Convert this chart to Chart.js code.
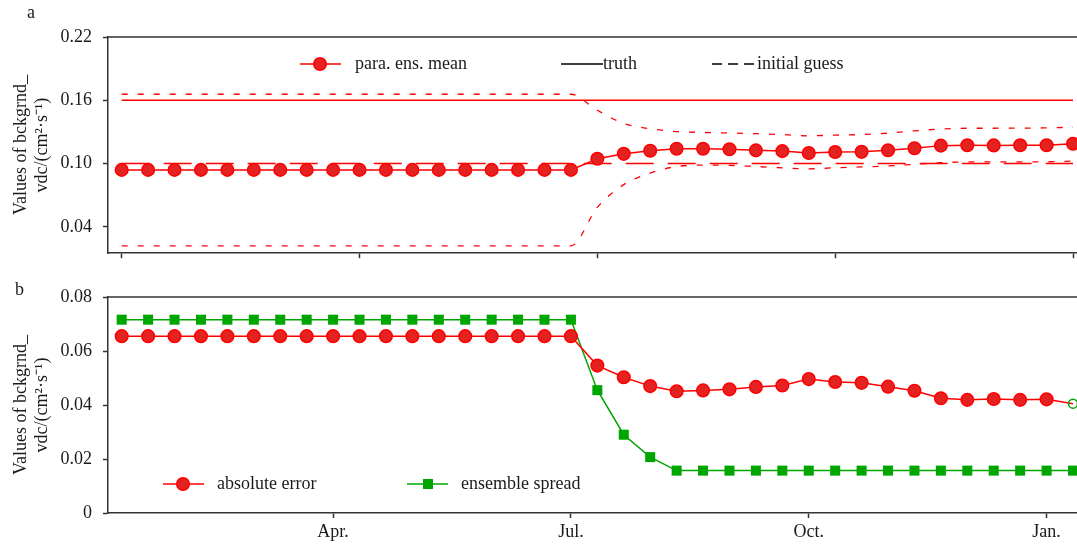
<!DOCTYPE html>
<html><head><meta charset="utf-8">
<script src="https://cdn.jsdelivr.net/npm/chart.js@4.4.1/dist/chart.umd.min.js"></script>
<style>
html,body{margin:0;padding:0;background:#fff;}
#wrap{position:relative;width:1077px;height:550px;overflow:hidden;}
canvas{position:absolute;left:0;}
#ca{top:0;} #cb{top:275px;}
</style></head><body>
<div id="wrap"><canvas id="ca" width="1077" height="275"></canvas><canvas id="cb" width="1077" height="275"></canvas></div>
<script>
// time steps (shared by both panels)
const steps = [0,1,2,3,4,5,6,7,8,9,10,11,12,13,14,15,16,17,18,19,20,21,22,23,24,25,26,27,28,29,30,31,32,33,34,35,36];

// panel a
const paraEnsMean = [0.0940,0.0940,0.0940,0.0940,0.0940,0.0940,0.0940,0.0940,0.0940,0.0940,0.0940,0.0940,0.0940,0.0940,0.0940,0.0940,0.0940,0.0940,
  0.1045,0.1092,0.1122,0.1140,0.1140,0.1135,0.1125,0.1118,0.1100,0.1110,0.1111,0.1126,0.1145,0.1170,0.1173,0.1172,0.1173,0.1173,0.1188];
const truth = [0.16,0.16,0.16,0.16,0.16,0.16,0.16,0.16,0.16,0.16,0.16,0.16,0.16,0.16,0.16,0.16,0.16,0.16,0.16,0.16,0.16,0.16,0.16,0.16,0.16,0.16,0.16,0.16,0.16,0.16,0.16,0.16,0.16,0.16,0.16,0.16,0.16];
const initialGuess = [0.10,0.10,0.10,0.10,0.10,0.10,0.10,0.10,0.10,0.10,0.10,0.10,0.10,0.10,0.10,0.10,0.10,0.10,0.10,0.10,0.10,0.10,0.10,0.10,0.10,0.10,0.10,0.10,0.10,0.10,0.10,0.10,0.10,0.10,0.10,0.10,0.10];
const ensembleMax = [0.1657,0.1657,0.1657,0.1657,0.1657,0.1657,0.1657,0.1657,0.1657,0.1657,0.1657,0.1657,0.1657,0.1657,0.1657,0.1657,0.1657,0.1657,
  0.1505,0.1380,0.1330,0.1303,0.1295,0.1290,0.1283,0.1275,0.1263,0.1270,0.1275,0.1288,0.1310,0.1328,0.1335,0.1335,0.1336,0.1338,0.1345];
const ensembleMin = [0.0220,0.0220,0.0220,0.0220,0.0220,0.0220,0.0220,0.0220,0.0220,0.0220,0.0220,0.0220,0.0220,0.0220,0.0220,0.0220,0.0220,0.0220,
  0.0585,0.0800,0.0910,0.0972,0.0985,0.0983,0.0972,0.0960,0.0950,0.0960,0.0968,0.0977,0.0993,0.1008,0.1015,0.1015,0.1016,0.1017,0.1024];
const panelAYTicks = [0.04,0.10,0.16,0.22];
const panelAXTicks = [0,9,18,27,36];

// panel b
const absoluteError = [0.0655,0.0655,0.0655,0.0655,0.0655,0.0655,0.0655,0.0655,0.0655,0.0655,0.0655,0.0655,0.0655,0.0655,0.0655,0.0655,0.0655,0.0655,
  0.0546,0.0503,0.0470,0.0451,0.0454,0.0458,0.0467,0.0472,0.0496,0.0485,0.0482,0.0468,0.0453,0.0425,0.0419,0.0422,0.0419,0.0421,0.0405];
const ensembleSpread = [0.0716,0.0716,0.0716,0.0716,0.0716,0.0716,0.0716,0.0716,0.0716,0.0716,0.0716,0.0716,0.0716,0.0716,0.0716,0.0716,0.0716,0.0716,
  0.0455,0.0290,0.0207,0.0157,0.0157,0.0157,0.0157,0.0157,0.0157,0.0157,0.0157,0.0157,0.0157,0.0157,0.0157,0.0157,0.0157,0.0157,0.0157];
const panelBYTicks = [0,0.02,0.04,0.06,0.08];
const monthTickSteps = [8,17,26,35];
const monthTickLabels = ['Apr.','Jul.','Oct.','Jan.'];

const FONT = "'Liberation Serif','Times New Roman',serif";
const RED = '#ff0000', RED_FILL = '#e52222', GREEN = '#00a600', AXIS = '#333333', TXT = '#1a1a1a';
const X_MIN = -0.518, X_MAX = 36.151;
const pts = arr => steps.map((s, i) => ({x: s, y: arr[i]}));
Chart.defaults.font.family = FONT;
Chart.defaults.font.size = 18;
Chart.defaults.color = TXT;

function yTitle() {
  return {display: true, text: ['Values of bckgrnd_', 'vdc/(cm\u00B2\u00B7s\u207B\u00B9)'], color: TXT,
    font: {family: FONT, size: 18, lineHeight: 1.2}, padding: {top: 10, bottom: 0}};
}
function axisCommon() {
  return {border: {display: true, color: AXIS, width: 1.5},
    grid: {drawOnChartArea: false, drawTicks: true, tickLength: 5, tickColor: AXIS, tickWidth: 1.5}};
}

const frame = {
  id: 'frame',
  afterDraw(chart, args, opts) {
    const {ctx, chartArea: a} = chart;
    ctx.save();
    ctx.strokeStyle = AXIS; ctx.lineWidth = 1.5;
    ctx.beginPath(); ctx.moveTo(a.left, a.top); ctx.lineTo(chart.width, a.top); ctx.stroke();
    ctx.fillStyle = TXT; ctx.font = '18px ' + FONT; ctx.textBaseline = 'alphabetic'; ctx.textAlign = 'left';
    ctx.fillText(opts.letter, opts.lx, opts.ly);
    ctx.textBaseline = 'middle';
    for (const it of opts.items) {
      ctx.save();
      ctx.strokeStyle = it.color; ctx.lineWidth = it.lw || 1.5;
      if (it.dash) ctx.setLineDash(it.dash);
      ctx.beginPath(); ctx.moveTo(it.x0, it.y); ctx.lineTo(it.x1, it.y); ctx.stroke();
      ctx.setLineDash([]);
      if (it.marker === 'circle') {
        ctx.fillStyle = RED_FILL; ctx.strokeStyle = RED; ctx.lineWidth = 1.5;
        ctx.beginPath(); ctx.arc(it.mx, it.y, 6.3, 0, Math.PI * 2); ctx.fill(); ctx.stroke();
      } else if (it.marker === 'square') {
        ctx.fillStyle = GREEN; ctx.fillRect(it.mx - 5, it.y - 5, 10, 10);
      }
      ctx.restore();
      ctx.fillStyle = TXT;
      ctx.fillText(it.label, it.tx, it.y);
    }
    ctx.restore();
  }
};

// ---------- panel a ----------
new Chart(document.getElementById('ca'), {
  type: 'line',
  data: {datasets: [
    {label: 'para. ens. mean', data: pts(paraEnsMean), borderColor: RED, borderWidth: 1.5,
      pointRadius: 6.3, pointBackgroundColor: RED_FILL, pointBorderColor: RED, pointBorderWidth: 1.5, tension: 0},
    {label: 'truth', data: pts(truth), borderColor: RED, borderWidth: 1.5, pointRadius: 0},
    {label: 'initial guess', data: pts(initialGuess), borderColor: RED, borderWidth: 1.5, borderDash: [28, 14], pointRadius: 0},
    {label: 'ensemble max', data: pts(ensembleMax), borderColor: RED, borderWidth: 1.3, borderDash: [6, 10], pointRadius: 0, cubicInterpolationMode: 'monotone'},
    {label: 'ensemble min', data: pts(ensembleMin), borderColor: RED, borderWidth: 1.3, borderDash: [6, 10], pointRadius: 0, cubicInterpolationMode: 'monotone'}
  ]},
  options: {
    responsive: false, animation: false, devicePixelRatio: 1,
    layout: {autoPadding: false, padding: {top: 37, right: 0, bottom: 0, left: 0}},
    plugins: {legend: {display: false}, tooltip: {enabled: false},
      frame: {letter: 'a', lx: 27, ly: 18, items: [
        {x0: 300, x1: 341, y: 64, color: RED, marker: 'circle', mx: 320, label: 'para. ens. mean', tx: 355},
        {x0: 561, x1: 603, y: 64, color: '#000', lw: 1.3, label: 'truth', tx: 603},
        {x0: 712, x1: 755, y: 64, color: '#000', lw: 1.3, dash: [10, 6], label: 'initial guess', tx: 757}
      ]}},
    scales: {
      x: Object.assign(axisCommon(), {type: 'linear', min: X_MIN, max: X_MAX,
        ticks: {display: false},
        afterBuildTicks: s => { s.ticks = panelAXTicks.map(v => ({value: v})); },
        afterFit: s => { s.height = 21; }}),
      y: Object.assign(axisCommon(), {min: 0.0150, max: 0.22,
        ticks: {padding: 11, color: TXT, font: {size: 18, family: FONT}, callback: v => Number(v).toFixed(2)},
        afterBuildTicks: s => { s.ticks = panelAYTicks.map(v => ({value: v})); },
        afterFit: s => { s.width = 108; },
        title: yTitle()})
    }
  },
  plugins: [frame]
});

// ---------- panel b ----------
new Chart(document.getElementById('cb'), {
  type: 'line',
  data: {datasets: [
    {label: 'absolute error', data: pts(absoluteError), borderColor: RED, borderWidth: 1.5, tension: 0,
      pointRadius: c => c.dataIndex === steps.length - 1 ? 4.5 : 6.3,
      pointBackgroundColor: c => c.dataIndex === steps.length - 1 ? 'rgba(255,255,255,0)' : RED_FILL,
      pointBorderColor: c => c.dataIndex === steps.length - 1 ? GREEN : RED, pointBorderWidth: 1.5},
    {label: 'ensemble spread', data: pts(ensembleSpread), borderColor: GREEN, borderWidth: 1.5, tension: 0,
      pointStyle: 'rect', pointRadius: 7.1, pointBackgroundColor: GREEN, pointBorderColor: GREEN, pointBorderWidth: 0}
  ]},
  options: {
    responsive: false, animation: false, devicePixelRatio: 1,
    layout: {autoPadding: false, padding: {top: 22, right: 0, bottom: 0, left: 0}},
    plugins: {legend: {display: false}, tooltip: {enabled: false},
      frame: {letter: 'b', lx: 15, ly: 20, items: [
        {x0: 163, x1: 204, y: 209, color: RED, marker: 'circle', mx: 183, label: 'absolute error', tx: 217},
        {x0: 407, x1: 448, y: 209, color: GREEN, marker: 'square', mx: 428, label: 'ensemble spread', tx: 461}
      ]}},
    scales: {
      x: Object.assign(axisCommon(), {type: 'linear', min: X_MIN, max: X_MAX,
        ticks: {padding: 3, color: TXT, font: {size: 18, family: FONT}, maxRotation: 0,
          callback: v => { const k = monthTickSteps.indexOf(Math.round(v)); return k >= 0 ? monthTickLabels[k] : ''; }},
        afterBuildTicks: s => { s.ticks = monthTickSteps.map(v => ({value: v})); },
        afterFit: s => { s.height = 37; }}),
      y: Object.assign(axisCommon(), {min: 0, max: 0.08,
        ticks: {padding: 11, color: TXT, font: {size: 18, family: FONT}, callback: v => (v === 0 ? '0' : Number(v).toFixed(2))},
        afterBuildTicks: s => { s.ticks = panelBYTicks.map(v => ({value: v})); },
        afterFit: s => { s.width = 108; },
        title: yTitle()})
    }
  },
  plugins: [frame]
});
</script>
</body></html>
